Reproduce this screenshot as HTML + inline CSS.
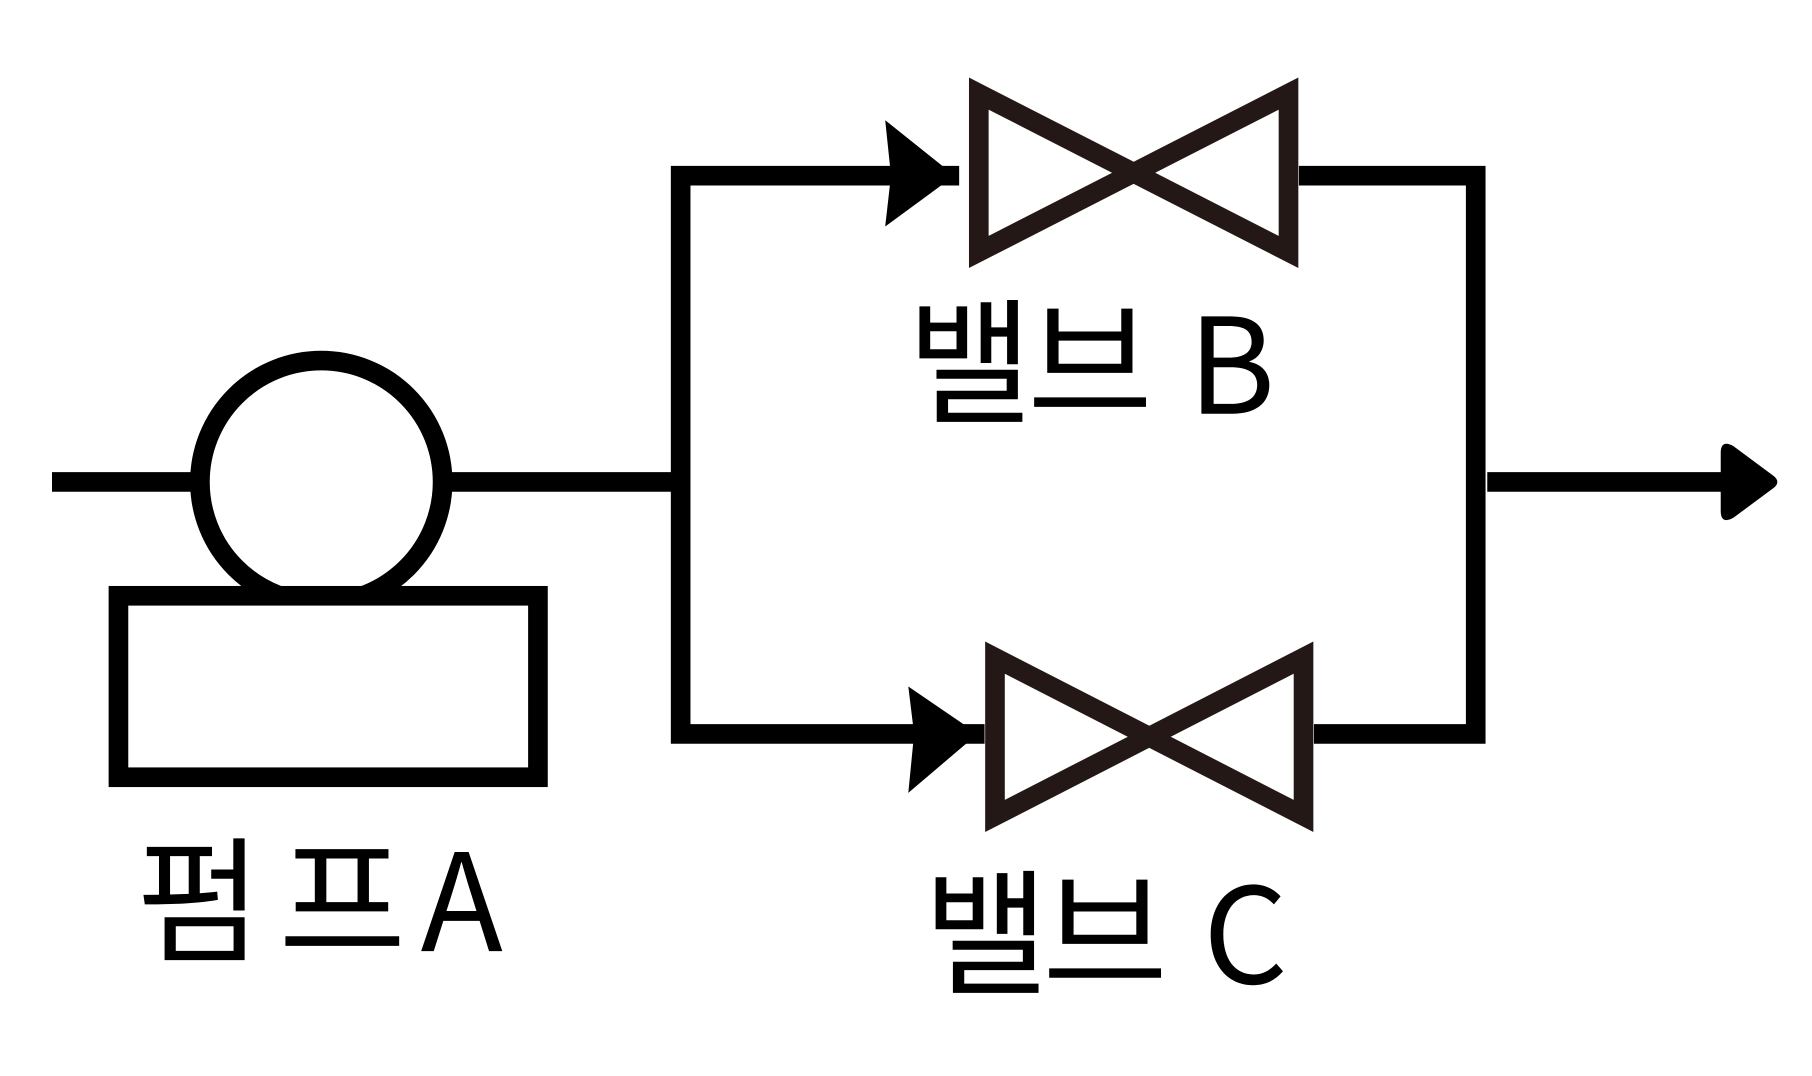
<!DOCTYPE html>
<html><head><meta charset="utf-8"><style>
html,body{margin:0;padding:0;background:#fff;width:1812px;height:1076px;overflow:hidden}
svg{display:block}
text{font-family:"Noto Sans CJK KR","Liberation Sans",sans-serif;fill:#000}
</style></head><body>
<svg width="1812" height="1076" viewBox="0 0 1568 931" preserveAspectRatio="none">
<g stroke="#000" stroke-width="17" fill="none">
<line x1="45" y1="417" x2="166" y2="417"/>
<line x1="391" y1="417" x2="581" y2="417"/>
<circle cx="278" cy="417" r="105" fill="#fff"/>
<rect x="102.5" y="515.5" width="363" height="157" fill="#fff"/>
<polyline points="830,152 589,152 589,635 852,635"/>
<polyline points="1124,152 1277,152 1277,635 1137,635"/>
<line x1="1287" y1="417" x2="1492" y2="417"/>
</g>
<polygon points="766,104 826,152 766,196 771,152" fill="#000"/>
<polygon points="786,594 846,635 786,686 791,635" fill="#000"/>
<path d="M1489,392 Q1489,380 1500,386 L1535,412 Q1541,417 1535,422 L1500,448 Q1489,454 1489,442 Z" fill="#000"/>
<g stroke="#231815" stroke-width="17" fill="none" stroke-linejoin="miter">
<path d="M847,81 L1115,218 L1115,81 L847,218 Z"/>
<path d="M861,569 L1128,706 L1128,569 L861,706 Z"/>
</g>
<text x="785" y="357" font-size="118">밸</text>
<text x="889" y="357" font-size="118">브</text>
<text x="1028" y="358" font-size="115">B</text>
<text x="118" y="823" font-size="118">펌</text>
<text x="241" y="823" font-size="120">프</text>
<text x="364" y="823" font-size="117">A</text>
<text x="799" y="851" font-size="118">밸</text>
<text x="902" y="851" font-size="118">브</text>
<text x="1041" y="851" font-size="115">C</text>
</svg>
</body></html>
